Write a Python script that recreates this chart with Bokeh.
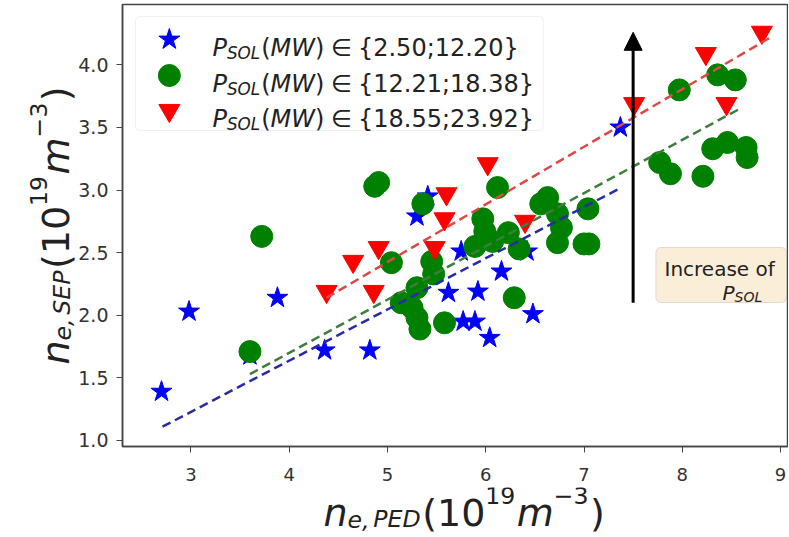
import math
from bokeh.plotting import figure
from bokeh.layouts import row, column
from bokeh.models import (Range1d, FixedTicker, Label, BoxAnnotation, Arrow, NormalHead,
                          PrintfTickFormatter)
from bokeh.embed import file_html
from bokeh.resources import INLINE

# ---------------- data ----------------
low_x = [2.70, 2.98, 3.60, 3.88, 4.36, 4.82, 5.30, 5.41, 5.62, 5.75, 5.77, 5.89, 5.92, 6.04, 6.16, 6.42, 6.48, 7.37]
low_y = [1.39, 2.03, 1.68, 2.14, 1.72, 1.72, 2.79, 2.95, 2.18, 2.51, 1.95, 1.95, 2.19, 1.82, 2.35, 2.51, 2.01, 3.50]

mid_x = [3.60, 3.72, 4.87, 4.91, 5.04, 5.14, 5.25, 5.30, 5.33, 5.30, 5.36, 5.45, 5.47, 5.58, 5.89, 5.97, 5.99, 6.07, 6.12, 6.23,
         6.29, 6.34, 6.56, 6.63, 6.73, 6.77, 6.73, 7.04, 7.00, 7.05, 7.77, 7.88, 7.97, 8.21, 8.31, 8.36, 8.46, 8.54, 8.65, 8.66]
mid_y = [1.71, 2.63, 3.03, 3.06, 2.42, 2.10, 2.06, 1.98, 1.89, 2.22, 2.89, 2.43, 2.33, 1.94, 2.55, 2.77, 2.67, 2.59, 3.02, 2.66,
         2.14, 2.53, 2.89, 2.94, 2.81, 2.70, 2.58, 2.85, 2.57, 2.57, 3.22, 3.13, 3.80, 3.11, 3.33, 3.92, 3.38, 3.88, 3.34, 3.26]

high_x = [4.38, 4.65, 4.86, 4.91, 5.48, 5.58, 5.60, 6.02, 6.40, 7.51, 8.24, 8.45, 8.81]
high_y = [2.19, 2.43, 2.19, 2.54, 2.54, 2.77, 2.97, 3.21, 2.75, 3.69, 4.09, 3.69, 4.26]

# fitted trend lines (end points)
low_fit_x = [2.71, 7.38]
low_fit_y = [1.11, 3.02]
mid_fit_x = [3.60, 8.61]
mid_fit_y = [1.53, 3.66]
high_fit_x = [4.38, 8.90]
high_fit_y = [2.14, 4.22]

legend_ranges = ["{2.50;12.20}", "{12.21;18.38}", "{18.55;23.92}"]
x_ticks = [3, 4, 5, 6, 7, 8, 9]
y_ticks = [1.0, 1.5, 2.0, 2.5, 3.0, 3.5, 4.0]

# arrow "increase of P_SOL"
arrow_x = 7.50
arrow_y = [2.10, 4.26]

# ---------------- geometry (page pixels, page origin = picture origin) ----------------
FONT = "DejaVu Sans"
F_LEFT, F_RIGHT, F_TOP, F_BOTTOM = 120, 788, 4, 446
X0 = 2.303
X1 = X0 + (F_RIGHT - F_LEFT) / 98.55
Y1 = 4.482
Y0 = 0.952
YLAB_W = 75
MAIN_W = 788 - YLAB_W
MAIN_H = 487
XLAB_H = 536 - MAIN_H


def px2x(px):
    return X0 + (px - F_LEFT) / (F_RIGHT - F_LEFT) * (X1 - X0)


def py2y(py):
    return Y1 - (py - F_TOP) / (F_BOTTOM - F_TOP) * (Y1 - Y0)


# ---------------- main figure ----------------
p = figure(width=MAIN_W, height=MAIN_H, x_range=Range1d(X0, X1), y_range=Range1d(Y0, Y1),
           output_backend="svg", toolbar_location=None,
           min_border_left=F_LEFT - YLAB_W, min_border_right=788 - F_RIGHT,
           min_border_top=F_TOP, min_border_bottom=MAIN_H - F_BOTTOM)
p.grid.visible = False
p.outline_line_color = "#444444"
p.outline_line_width = 1.5
p.background_fill_color = "white"

for ax in (p.xaxis[0], p.yaxis[0]):
    ax.axis_line_color = "#444444"
    ax.axis_line_width = 1.5
    ax.major_tick_line_color = "#444444"
    ax.major_tick_out = 6
    ax.major_tick_in = 0
    ax.minor_tick_line_color = None
    ax.major_label_text_font = FONT
    ax.major_label_text_color = "#333333"
p.xaxis.major_label_text_font_size = "18px"
p.yaxis.major_label_text_font_size = "19px"
p.xaxis.major_label_standoff = 15
p.yaxis.major_label_standoff = 8
p.xaxis.ticker = FixedTicker(ticks=x_ticks)
p.xaxis.formatter = PrintfTickFormatter(format="%d")
p.yaxis.ticker = FixedTicker(ticks=y_ticks)
p.yaxis.formatter = PrintfTickFormatter(format="%.1f")

# boxes under the glyphs
p.add_layout(BoxAnnotation(left=px2x(655), right=px2x(786), top=py2y(247), bottom=py2y(302),
                           fill_color="#f5deb3", fill_alpha=0.5, level="underlay",
                           line_color="#999999", line_width=1, border_radius=5))
p.add_layout(BoxAnnotation(left=px2x(133), right=px2x(542), top=py2y(16), bottom=py2y(130),
                           fill_color="white", fill_alpha=1.0, level="underlay",
                           line_color="#cccccc", line_width=1, border_radius=4))

MARKERS = [("star", 22, "#0000ff"), ("circle", 22, "#008000"), ("inverted_triangle", 21, "#ff0000")]
for (mk, sz, col), xs, ys in zip(MARKERS, (low_x, mid_x, high_x), (low_y, mid_y, high_y)):
    p.scatter(xs, ys, marker=mk, size=sz, fill_color=col, line_color=col)

p.line(low_fit_x, low_fit_y, line_dash="9 5", line_width=2.5, line_color="#2a2aa8")
p.line(mid_fit_x, mid_fit_y, line_dash="9 5", line_width=2.5, line_color="#3d7d3d")
p.line(high_fit_x, high_fit_y, line_dash="9 5", line_width=2.5, line_color="#e04848")

# legend keys
LEG_ROWS = [39, 75, 110]
for (mk, sz, col), ry in zip(MARKERS, LEG_ROWS):
    p.scatter([px2x(167)], [py2y(ry)], marker=mk, size=sz, fill_color=col, line_color=col)

# arrow
p.add_layout(Arrow(x_start=arrow_x, y_start=arrow_y[0], x_end=arrow_x, y_end=arrow_y[1],
                   line_width=3, line_color="black",
                   end=NormalHead(size=18, fill_color="black", line_color="black")))

# --------------- composite (math-like) text ---------------
W = {'n': .634, 'e': .615, ',': .318, 'S': .635, 'E': .632, 'P': .603, 'D': .770, '(': .390, ')': .390,
     'm': .974, '−': .838, 'O': .787, 'L': .557, 'M': .863, 'W': .989, '∈': .84, '{': .636, '}': .636,
     ';': .337, '.': .318, ' ': .318, 'I': .295, 'c': .550, 'r': .411, 'a': .613, 's': .521, 'o': .612,
     'f': .352}


def tw(s):
    return sum(W.get(c, .636) for c in s)


def math_text(fig, origin, pieces, px, py, size, rotated=False, color="#222222",
              script=0.7, sub_off=0.22, sup_off=0.42):
    """origin: page (left, bottom) of fig's frame; px, py: page start of the baseline."""
    x0, y0 = px - origin[0], origin[1] - py
    pos = 0.0
    for txt, kind, ital in pieces:
        if kind == "gap":
            pos += ital * size
            continue
        fs = size * script if kind in ("sub", "sup") else size
        off = -sub_off * size if kind == "sub" else (sup_off * size if kind == "sup" else 0.0)
        if rotated:
            x, y = x0 - off, y0 + pos
        else:
            x, y = x0 + pos, y0 + off
        fig.add_layout(Label(x=x, y=y, x_units="screen", y_units="screen", text=txt,
                             angle=(math.pi / 2 if rotated else 0.0),
                             text_font=FONT, text_font_size=f"{fs:.1f}px",
                             text_font_style="italic" if ital else "normal",
                             text_color=color, text_baseline="alphabetic", text_align="left"))
        pos += tw(txt) * fs + (0.04 * size if kind != "n" else 0.0)


def axis_pieces(sub):
    return [("n", "n", True), ("e,", "sub", True), ("", "gap", 0.06), (sub, "sub", True),
            ("(10", "n", False), ("19", "sup", False), ("m", "n", True), ("−3", "sup", False),
            (")", "n", False)]


MAIN_ORIGIN = (F_LEFT, F_BOTTOM)
for i, rng in enumerate(legend_ranges):
    math_text(p, MAIN_ORIGIN,
              [("P", "n", True), ("SOL", "sub", True), ("(", "n", False), ("MW", "n", True),
               (")", "n", False), ("", "gap", 0.28), ("∈", "n", False), ("", "gap", 0.28),
               (rng, "n", False)], 210, LEG_ROWS[i] + 8, 24)

math_text(p, MAIN_ORIGIN, [("Increase of", "n", False)], 662, 268, 20)
math_text(p, MAIN_ORIGIN, [("P", "n", True), ("SOL", "sub", True)], 720, 292, 20)


def blank(width, height):
    f = figure(width=width, height=height, x_range=Range1d(0, 1), y_range=Range1d(0, 1),
               x_axis_type=None, y_axis_type=None, output_backend="svg", toolbar_location=None,
               min_border=0, min_border_left=0, min_border_right=0, min_border_top=0,
               min_border_bottom=0)
    f.outline_line_color = None
    f.grid.visible = False
    return f


# x axis title strip: its frame is aligned by the column with the main frame
# (frame left at page x 120); bottom reference measured from the previous render
xlab = blank(MAIN_W, XLAB_H)
math_text(xlab, (F_LEFT, 549), axis_pieces("PED"), 321, 525, 38,
          script=0.62, sub_off=0.18, sup_off=0.46)

# y axis title strip (page x 0..75, y 0..536)
ylab = blank(YLAB_W, 536)
math_text(ylab, (0, 536), axis_pieces("SEP"), 55, 364, 38, rotated=True,
          script=0.62, sub_off=0.18, sup_off=0.46)

layout = row(ylab, column(p, xlab, spacing=0), spacing=0)
open("out.html", "w").write(file_html(layout, INLINE))
